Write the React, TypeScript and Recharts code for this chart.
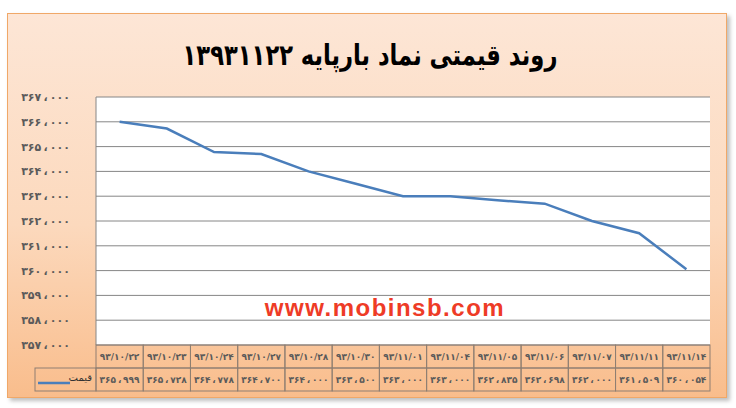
import { LineChart, Line, XAxis, YAxis, CartesianGrid } from "recharts";

const dates = [
  "۹۳/۱۰/۲۲",
  "۹۳/۱۰/۲۳",
  "۹۳/۱۰/۲۴",
  "۹۳/۱۰/۲۷",
  "۹۳/۱۰/۲۸",
  "۹۳/۱۰/۳۰",
  "۹۳/۱۱/۰۱",
  "۹۳/۱۱/۰۴",
  "۹۳/۱۱/۰۵",
  "۹۳/۱۱/۰۶",
  "۹۳/۱۱/۰۷",
  "۹۳/۱۱/۱۱",
  "۹۳/۱۱/۱۴",
];
const prices = [
  365999, 365728, 364778, 364700, 364000, 363500, 363000, 363000, 362835,
  362698, 362000, 361509, 360054,
];
const yTicks = [
  357000, 358000, 359000, 360000, 361000, 362000, 363000, 364000, 365000,
  366000, 367000,
];
const seriesName = "قیمت";
const title = "روند قیمتی نماد بارپایه ۱۳۹۳۱۱۲۲";
const watermark = "www.mobinsb.com";

const data = dates.map((d, i) => ({ date: d, price: prices[i] }));

const W = 736;
const H = 408;
const PLOT_LEFT = 96;
const PLOT_RIGHT = 710;
const COL = (PLOT_RIGHT - PLOT_LEFT) / dates.length;
const ROW = 23;
const LINE = "#4A7EBB";
const BORDER = "#8f7f72";
const TEXT = "#5a5a5a";
const FONT = "'DejaVu Sans', sans-serif";

const persianDigits = "۰۱۲۳۴۵۶۷۸۹";
function fa(n: number) {
  const s = String(n);
  const head = s.slice(0, s.length - 3);
  const tail = s.slice(-3);
  return (head + "\u2009،\u2009" + tail).replace(/[0-9]/g, (c) => persianDigits[+c]);
}

function TableTick(props: any) {
  const { x, y, payload } = props;
  const i = payload.index;
  const left = x - COL / 2;
  return (
    <g fontFamily={FONT} fontWeight="bold" fontSize={9} fill={TEXT}>
      <rect x={left} y={y} width={COL} height={ROW} fill="none" stroke={BORDER} />
      <text x={x} y={y + ROW / 2 + 1} textAnchor="middle" dominantBaseline="middle">
        {dates[i]}
      </text>
      <rect x={left} y={y + ROW} width={COL} height={ROW} fill="none" stroke={BORDER} />
      <text x={x} y={y + ROW * 1.5 + 1} textAnchor="middle" dominantBaseline="middle">
        {fa(prices[i])}
      </text>
      {i === 0 && (
        <g>
          <rect x={35} y={y + ROW} width={left - 35} height={ROW} fill="none" stroke={BORDER} />
          <line x1={38} x2={70} y1={y + ROW + 15} y2={y + ROW + 15} stroke={LINE} strokeWidth={2.5} />
          <text x={92} y={y + ROW + 10} textAnchor="end" dominantBaseline="middle" fontWeight="normal" fontSize={10} fill="#333">
            {seriesName}
          </text>
        </g>
      )}
    </g>
  );
}

export default function App() {
  return (
    <div style={{ position: "relative", width: W, height: H }}>
      <style>{"body{margin:0}"}</style>
      <div
        style={{
          position: "absolute",
          left: 7,
          top: 13,
          width: 720,
          height: 385,
          boxSizing: "border-box",
          border: "1px solid #f0a868",
          background: "linear-gradient(to bottom, #fde6d6 0%, #fcd9bd 55%, #f9bd8c 100%)",
          boxShadow: "3px 3px 4px rgba(0,0,0,0.25)",
        }}
      />
      <div
        style={{
          position: "absolute",
          left: 0,
          top: 38,
          width: 740,
          textAlign: "center",
          direction: "rtl",
          fontFamily: FONT,
          fontWeight: "bold",
          fontSize: 29,
          color: "#000",
          transform: "scaleX(0.78)",
        }}
      >
        {title}
      </div>
      <div style={{ position: "absolute", left: 0, top: 0 }}>
        <LineChart width={W} height={H} data={data} margin={{ top: 97, right: W - PLOT_RIGHT, left: 0, bottom: 0 }}>
          <CartesianGrid vertical={false} stroke="#868686" fill="#ffffff" fillOpacity={1} />
          <XAxis
            dataKey="date"
            height={H - 345}
            interval={0}
            padding={{ left: COL / 2, right: COL / 2 }}
            axisLine={false}
            tickLine={false}
            tickSize={0}
            tickMargin={0}
            tick={<TableTick />}
          />
          <YAxis
            width={PLOT_LEFT}
            domain={[357000, 367000]}
            ticks={yTicks}
            interval={0}
            axisLine={{ stroke: "#868686" }}
            tickLine={false}
            tickMargin={20}
            tickFormatter={fa}
            tick={{ fontFamily: FONT, fontWeight: "bold", fontSize: 11, fill: TEXT }}
          />
          <Line
            dataKey="price"
            name={seriesName}
            stroke={LINE}
            strokeWidth={2.5}
            dot={false}
            isAnimationActive={false}
          />
          <text
            x={385}
            y={310}
            textAnchor="middle"
            dominantBaseline="middle"
            fontFamily="'Liberation Sans', Arial, sans-serif"
            fontWeight="bold"
            fontSize={24}
            letterSpacing={1.5}
            fill="#ee3b26"
          >
            {watermark}
          </text>
        </LineChart>
      </div>
    </div>
  );
}
